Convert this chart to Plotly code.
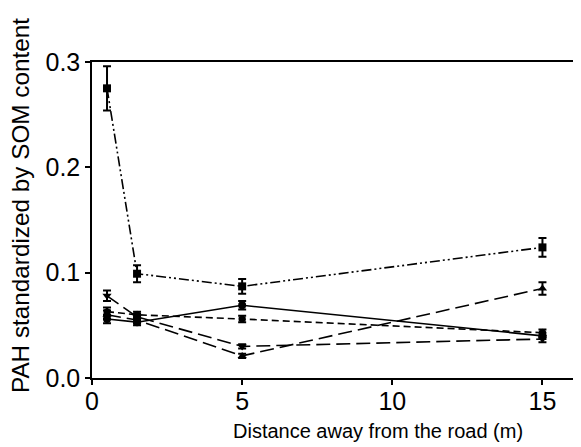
import plotly.graph_objects as go

distance = [0.5, 1.5, 5, 15]

sq_vals = [0.275, 0.099, 0.087, 0.124]
sq_err = [0.021, 0.008, 0.007, 0.009]

solid_vals = [0.056, 0.053, 0.069, 0.040]
solid_err = [0.004, 0.003, 0.004, 0.003]

short_vals = [0.063, 0.060, 0.056, 0.043]
short_err = [0.004, 0.003, 0.003, 0.003]

tdown_vals = [0.078, 0.058, 0.030, 0.037]
tdown_err = [0.005, 0.003, 0.002, 0.003]

tup_vals = [0.060, 0.055, 0.021, 0.085]
tup_err = [0.004, 0.003, 0.002, 0.006]

series = [
    (sq_vals, sq_err, "square", "10px,3px,2px,3px,2px,3px"),
    (solid_vals, solid_err, "circle", "solid"),
    (short_vals, short_err, "hexagon", "7px,4px"),
    (tdown_vals, tdown_err, "triangle-down", "14px,6px"),
    (tup_vals, tup_err, "triangle-up", "14px,6px"),
]

fig = go.Figure()
for vals, errs, sym, dash in series:
    fig.add_trace(go.Scatter(
        x=distance, y=vals, mode="lines+markers",
        line=dict(color="black", width=1.6, dash=dash),
        marker=dict(symbol=sym, size=8, color="black"),
        error_y=dict(type="data", array=errs, visible=True,
                     color="black", thickness=2, width=4),
        showlegend=False,
    ))

font = "Liberation Sans, Arial, sans-serif"
FS = 25
fig.update_layout(
    width=581, height=447,
    margin=dict(l=84, r=0, t=54, b=77),
    plot_bgcolor="white", paper_bgcolor="white",
    font=dict(family=font, size=FS, color="black"),
    xaxis=dict(range=[0, 16.55], tickvals=[0, 5, 10, 15],
               showline=True, linecolor="black", linewidth=1.5,
               mirror=True, ticks="outside", ticklen=5, tickwidth=1.5,
               tickcolor="black", showgrid=False, zeroline=False,
               tickfont=dict(size=FS), ticklabelstandoff=-5),
    yaxis=dict(range=[0, 0.3], tickvals=[0, 0.1, 0.2, 0.3],
               ticktext=["0.0", "0.1", "0.2", "0.3"],
               showline=True, linecolor="black", linewidth=1.5,
               ticks="outside", ticklen=5, tickwidth=1.5,
               tickcolor="black", showgrid=False, zeroline=False,
               tickfont=dict(size=FS)),
    annotations=[
        dict(text="Distance away from the road (m)",
             xref="paper", yref="paper", x=(370 - 84) / 497, y=-(436 - 370) / 316,
             xanchor="center", yanchor="bottom", showarrow=False,
             font=dict(size=20)),
        dict(text="PAH standardized by SOM content", textangle=-90,
             xref="paper", yref="paper", x=-(84 - 12) / 497, y=(370 - 198) / 316,
             xanchor="center", yanchor="middle", showarrow=False,
             font=dict(size=24.3)),
    ],
)

fig.write_html("out.html")
